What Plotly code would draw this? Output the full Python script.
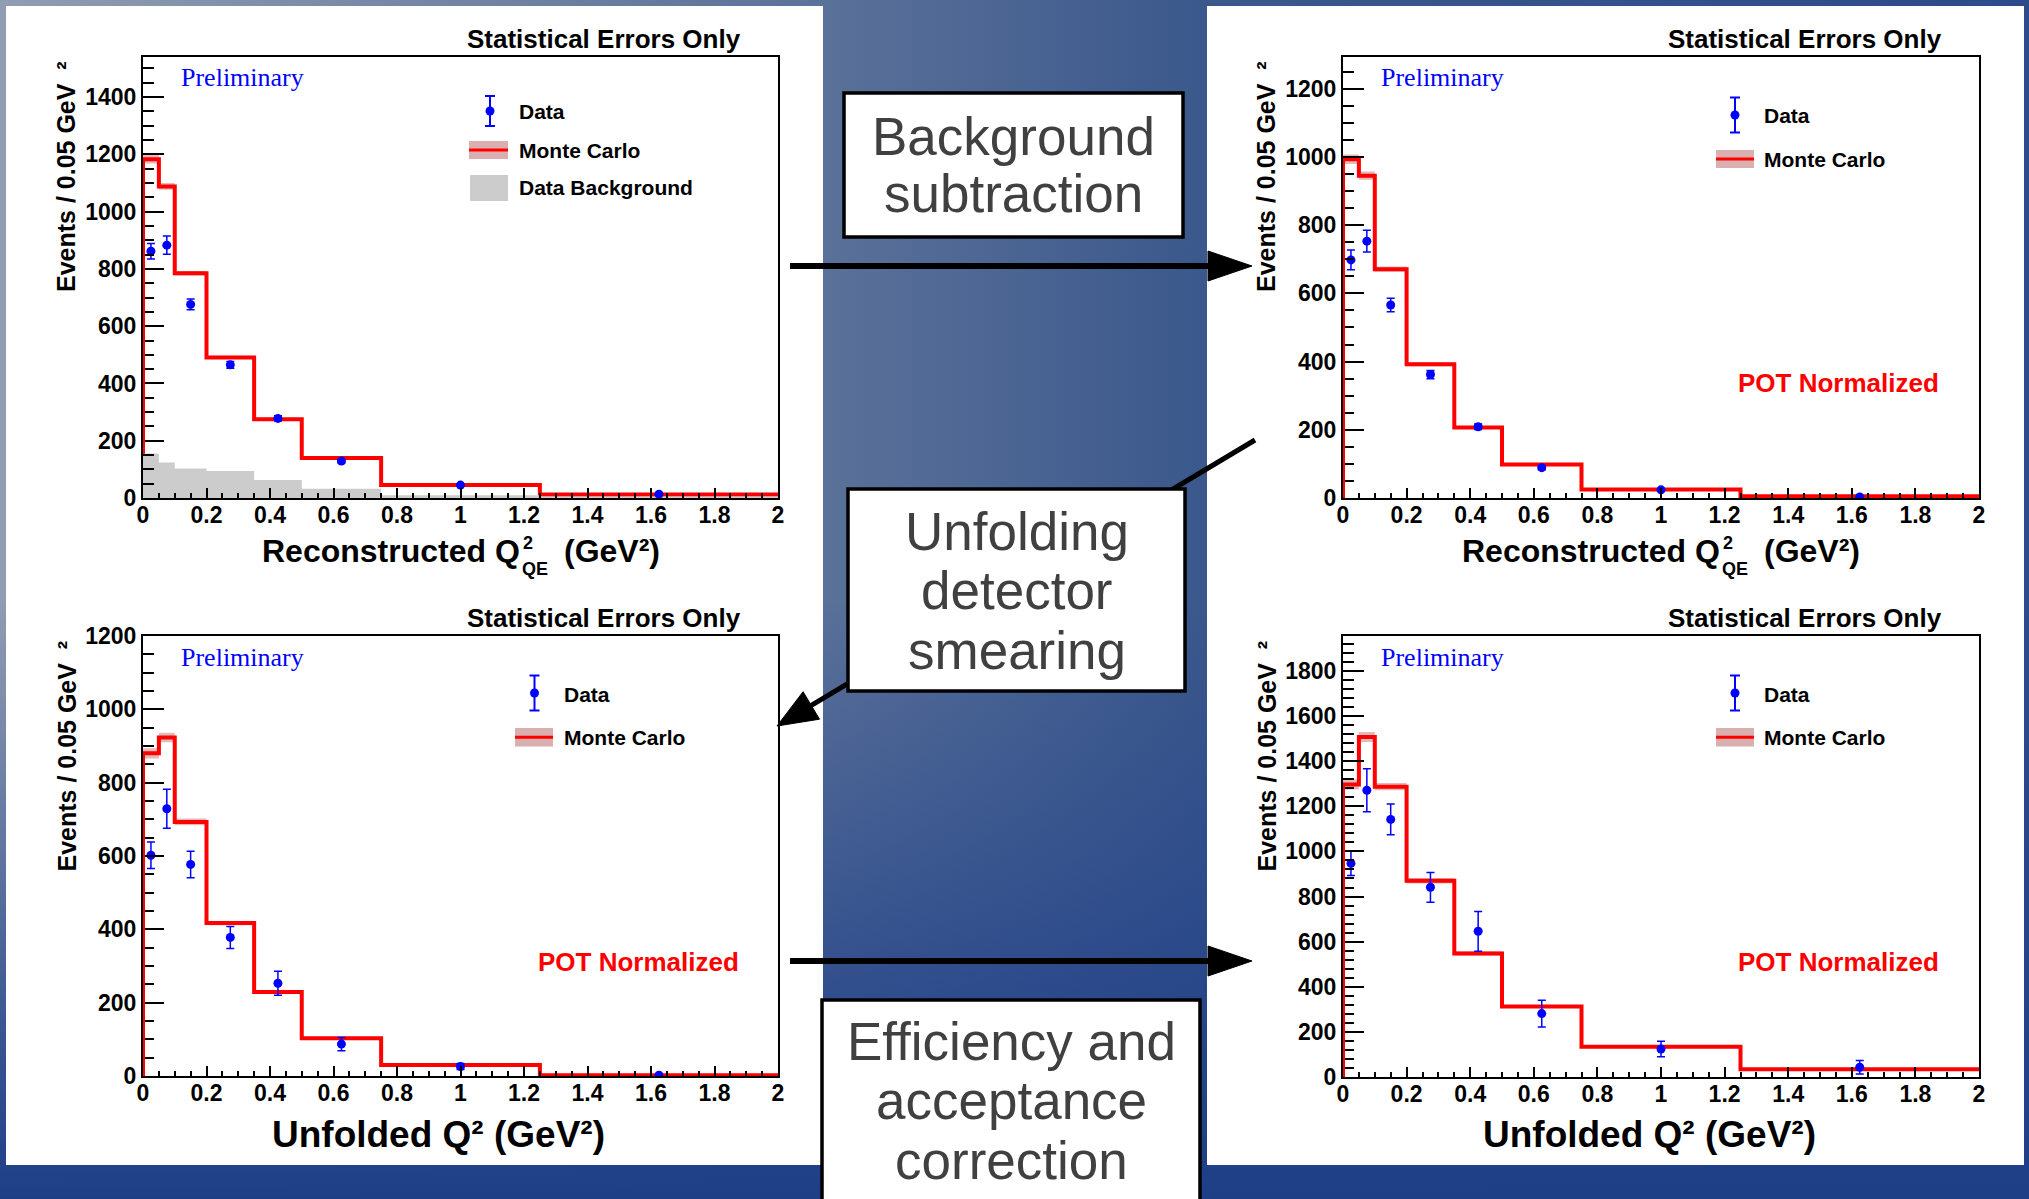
import math
import plotly.graph_objects as go

W, H = 2029, 1199
SANS = "Liberation Sans, Arial, sans-serif"
SERIF = "Liberation Serif, Times New Roman, serif"

# ---------------------------------------------------------------- data
# Q^2 binning (GeV^2)
bin_edges = [0.0, 0.05, 0.1, 0.2, 0.35, 0.5, 0.75, 1.25, 2.0]
bin_centers = [0.025, 0.075, 0.15, 0.275, 0.425, 0.625, 1.0, 1.625]
x_tick_vals = [0, 0.2, 0.4, 0.6, 0.8, 1.0, 1.2, 1.4, 1.6, 1.8, 2.0]
x_tick_text = ["0", "0.2", "0.4", "0.6", "0.8", "1", "1.2", "1.4", "1.6", "1.8", "2"]

# Reconstructed Q2_QE, before background subtraction
reco_mc = [1183, 1088, 785, 491, 275, 140, 45, 12]
reco_mc_err = [15, 12, 8, 6, 5, 3, 2, 1]
reco_data = [862, 883, 676, 465, 278, 129, 45, 13]
reco_data_err = [27, 32, 19, 12, 9, 7, 4, 2]
reco_bkg = [155, 124, 103, 94, 63, 32, 10, 4]

# Reconstructed Q2_QE, background subtracted (POT normalized)
sub_mc = [993, 945, 671, 392, 207, 98, 25, 5]
sub_mc_err = [14, 12, 8, 6, 4, 3, 2, 1]
sub_data = [698, 753, 566, 362, 209, 89, 24, 3]
sub_data_err = [29, 32, 20, 12, 8, 6, 4, 2]

# Unfolded Q2
unf_mc = [880, 923, 693, 417, 229, 103, 30, 2]
unf_mc_err = [14, 13, 9, 6, 5, 3, 2, 1]
unf_data = [602, 729, 577, 378, 253, 87, 26, 2]
unf_data_err = [36, 53, 36, 30, 33, 18, 8, 3]

# Unfolded Q2 after efficiency and acceptance correction
eff_mc = [1297, 1507, 1287, 870, 548, 313, 134, 34]
eff_mc_err = [22, 22, 16, 12, 9, 6, 4, 2]
eff_data = [947, 1271, 1142, 841, 646, 281, 124, 43]
eff_data_err = [54, 95, 68, 66, 88, 59, 34, 30]

step_labels = ["Background<br>subtraction",
               "Unfolding<br>detector<br>smearing",
               "Efficiency and<br>acceptance<br>correction"]

# ---------------------------------------------------------------- styling
RED = "#ff0000"
BLUE = "#0000ff"
BAND = "rgba(200,130,130,0.55)"
BAND_KEY = "#d9afaf"
GREY = "#cccccc"

panels = [
    dict(ax=2, frame=(143, 57, 778, 498), ymax=1540, minor=50,
         mc=reco_mc, mc_err=reco_mc_err, data=reco_data, data_err=reco_data_err, bkg=reco_bkg),
    dict(ax=3, frame=(1343, 57, 1979, 498), ymax=1293, minor=50,
         mc=sub_mc, mc_err=sub_mc_err, data=sub_data, data_err=sub_data_err, bkg=None),
    dict(ax=4, frame=(143, 636, 778, 1076), ymax=1200, minor=50,
         mc=unf_mc, mc_err=unf_mc_err, data=unf_data, data_err=unf_data_err, bkg=None),
    dict(ax=5, frame=(1343, 636, 1979, 1077), ymax=1955, minor=40,
         mc=eff_mc, mc_err=eff_mc_err, data=eff_data, data_err=eff_data_err, bkg=None),
]

fig = go.Figure()
shapes = []
annotations = []

# ---------------------------------------------------------------- slide background (pixel axes x/y)
rect_x = [0, W, W, 0, 0]
rect_y = [0, 0, H, H, 0]
fig.add_trace(go.Scatter(
    x=rect_x, y=rect_y, mode="lines", fill="toself", line=dict(width=0),
    fillgradient=dict(type="horizontal", start=0, stop=W,
                      colorscale=[[0, "#909db2"], [824 / W, "#5a7199"],
                                  [1206 / W, "#3b588c"], [1, "#2c4b8a"]]),
    hoverinfo="skip", xaxis="x", yaxis="y"))
fig.add_trace(go.Scatter(
    x=rect_x, y=rect_y, mode="lines", fill="toself", line=dict(width=0),
    fillgradient=dict(type="vertical", start=0, stop=H,
                      colorscale=[[0, "rgba(32,64,136,0)"], [0.5, "rgba(32,64,136,0)"],
                                  [0.72, "rgba(32,64,136,0.45)"], [0.85, "rgba(32,64,136,0.75)"],
                                  [1, "rgba(30,62,134,1)"]]),
    hoverinfo="skip", xaxis="x", yaxis="y"))
for (x0, x1) in [(6, 823), (1207, 2024)]:
    fig.add_trace(go.Scatter(
        x=[x0, x1, x1, x0, x0], y=[6, 6, 1165, 1165, 6], mode="lines",
        fill="toself", fillcolor="white", line=dict(width=0),
        hoverinfo="skip", xaxis="x", yaxis="y"))

# ---------------------------------------------------------------- histograms
layout_axes = {}
for p in panels:
    xa, ya = f"x{p['ax']}", f"y{p['ax']}"
    mc, mce = p["mc"], p["mc_err"]
    step_x = bin_edges
    lo = [v - e for v, e in zip(mc, mce)]
    hi = [v + e for v, e in zip(mc, mce)]
    fig.add_trace(go.Scatter(x=step_x, y=lo + [lo[-1]], mode="lines", line_shape="hv",
                             line=dict(width=0), hoverinfo="skip", xaxis=xa, yaxis=ya))
    fig.add_trace(go.Scatter(x=step_x, y=hi + [hi[-1]], mode="lines", line_shape="hv",
                             line=dict(width=0), fill="tonexty", fillcolor=BAND,
                             hoverinfo="skip", xaxis=xa, yaxis=ya))
    fig.add_trace(go.Scatter(x=[0.0] + step_x, y=[0] + mc + [mc[-1]], mode="lines",
                             line_shape="hv", line=dict(color=RED, width=4),
                             hoverinfo="skip", xaxis=xa, yaxis=ya))
    low_edge = 0
    if p["bkg"] is not None:
        b = p["bkg"]
        low_edge = b[0]
        fig.add_trace(go.Scatter(x=step_x, y=b + [b[-1]], mode="lines", line_shape="hv",
                                 line=dict(width=0), fill="tozeroy", fillcolor=GREY,
                                 hoverinfo="skip", xaxis=xa, yaxis=ya))
    # leading edge of the MC histogram, drawn over the frame line
    shapes.append(dict(type="line", xref=xa, yref=ya, x0=bin_edges[0], x1=bin_edges[0],
                       y0=low_edge, y1=mc[0], line=dict(color=RED, width=4), layer="above"))
    fig.add_trace(go.Scatter(x=bin_centers, y=p["data"], mode="markers",
                             marker=dict(color=BLUE, size=9),
                             error_y=dict(type="data", array=p["data_err"], color=BLUE,
                                          thickness=1.5, width=4),
                             hoverinfo="skip", xaxis=xa, yaxis=ya))

    fx0, fy0, fx1, fy1 = p["frame"]
    tickfont = dict(family=SANS, size=23, color="black", weight="bold")
    layout_axes[f"xaxis{p['ax']}"] = dict(
        domain=[fx0 / W, fx1 / W], anchor=ya, range=[0, 2],
        tickmode="array", tickvals=x_tick_vals, ticktext=x_tick_text,
        ticks="inside", ticklen=10, tickwidth=2, tickcolor="black",
        minor=dict(tickmode="linear", tick0=0, dtick=0.05, ticks="inside",
                   ticklen=5, tickwidth=2, tickcolor="black", showgrid=False),
        showline=True, linewidth=2, linecolor="black", mirror=True,
        showgrid=False, zeroline=False, tickfont=tickfont, fixedrange=True,
        automargin=False, ticklabelstandoff=-5)
    layout_axes[f"yaxis{p['ax']}"] = dict(
        domain=[1 - fy1 / H, 1 - fy0 / H], anchor=xa, range=[0, p["ymax"]],
        tickmode="linear", tick0=0, dtick=200,
        ticks="inside", ticklen=21, tickwidth=2, tickcolor="black",
        minor=dict(tickmode="linear", tick0=0, dtick=p["minor"], ticks="inside",
                   ticklen=11, tickwidth=2, tickcolor="black", showgrid=False),
        showline=True, linewidth=2, linecolor="black", mirror=True,
        showgrid=False, zeroline=False, tickfont=tickfont, fixedrange=True,
        automargin=False)

# ---------------------------------------------------------------- legends


def text(s, x, y, size, color="black", family=SANS, weight="bold",
         xanchor="center", yanchor="middle", angle=0):
    annotations.append(dict(
        text=s, x=x, y=y, xref="x", yref="y", showarrow=False,
        xanchor=xanchor, yanchor=yanchor, textangle=angle, borderpad=0,
        font=dict(family=family, size=size, color=color, weight=weight)))


def rect(x0, y0, x1, y1, fill, line_color=None, line_width=0):
    shapes.append(dict(type="rect", xref="x", yref="y", x0=x0, y0=y0, x1=x1, y1=y1,
                       fillcolor=fill, layer="above",
                       line=dict(color=line_color or fill, width=line_width)))


legend_keys = [
    dict(mark=(490, 111), err=15, mc_box=(469, 141, 508, 159), txt_x=518,
         data_y=111, mc_y=150.5, bkg_box=(470, 175, 508, 201), bkg_y=187),
    dict(mark=(1735, 115), err=17.5, mc_box=(1716, 150, 1754, 168), txt_x=1763,
         data_y=115.5, mc_y=159, bkg_box=None, bkg_y=None),
    dict(mark=(534.5, 693), err=17.5, mc_box=(515, 728, 553, 746.5), txt_x=563,
         data_y=694, mc_y=737, bkg_box=None, bkg_y=None),
    dict(mark=(1735, 693), err=17.5, mc_box=(1716, 728, 1754, 746.5), txt_x=1763,
         data_y=694, mc_y=737, bkg_box=None, bkg_y=None),
]
for k in legend_keys:
    fig.add_trace(go.Scatter(x=[k["mark"][0]], y=[k["mark"][1]], mode="markers",
                             marker=dict(color=BLUE, size=9),
                             error_y=dict(type="constant", value=k["err"], color=BLUE,
                                          thickness=2, width=5),
                             hoverinfo="skip", xaxis="x", yaxis="y"))
    bx0, by0, bx1, by1 = k["mc_box"]
    rect(bx0, by0, bx1, by1, BAND_KEY)
    my = (by0 + by1) / 2
    shapes.append(dict(type="line", xref="x", yref="y", x0=bx0, x1=bx1, y0=my, y1=my,
                       line=dict(color=RED, width=3), layer="above"))
    text("Data", k["txt_x"], k["data_y"], 21, xanchor="left")
    text("Monte Carlo", k["txt_x"], k["mc_y"], 21, xanchor="left")
    if k["bkg_box"] is not None:
        rect(*k["bkg_box"], GREY)
        text("Data Background", k["txt_x"], k["bkg_y"], 21, xanchor="left")

# ---------------------------------------------------------------- panel texts
for cx, cy in [(603.7, 39), (1804.5, 39), (603.7, 618.3), (1804.5, 618.3)]:
    text("Statistical Errors Only", cx, cy, 26)
for lx, ly in [(180, 77), (1380, 77), (180, 657), (1380, 657)]:
    text("Preliminary", lx, ly, 26, color=BLUE, family=SERIF, weight="normal", xanchor="left")
for cx, cy in [(1838.5, 383), (638, 962), (1838.5, 962)]:
    text("POT Normalized", cx, cy, 26, color=RED)
for cx, cy in [(66, 177), (1266, 177), (66, 756.5), (1266, 756.5)]:
    text("Events / 0.05 GeV\u00a0\u00a0\u00b2", cx, cy, 25, angle=-90)

# x-axis titles
for dx in (0, 1200):
    text("Reconstructed Q", 521 + dx, 551, 32, xanchor="right")
    text("2", 522 + dx, 543, 18, xanchor="left")
    text("QE", 521 + dx, 569, 18, xanchor="left")
    text("(GeV\u00b2)", 563 + dx, 551, 32, xanchor="left")
text("Unfolded Q\u00b2 (GeV\u00b2)", 438.5, 1134.5, 37)
text("Unfolded Q\u00b2 (GeV\u00b2)", 1649, 1134.5, 37)

# ---------------------------------------------------------------- workflow boxes and arrows


def arrow(x0, y0, x1, y1, width=6, head_len=44, head_half=15):
    dx, dy = x1 - x0, y1 - y0
    length = math.hypot(dx, dy)
    ux, uy = dx / length, dy / length
    bx, by = x1 - ux * head_len, y1 - uy * head_len
    nx, ny = -uy, ux
    shapes.append(dict(type="line", xref="x", yref="y", x0=x0, y0=y0, x1=bx, y1=by,
                       line=dict(color="black", width=width), layer="above"))
    path = (f"M {x1:.1f},{y1:.1f} L {bx + nx * head_half:.1f},{by + ny * head_half:.1f} "
            f"L {bx - nx * head_half:.1f},{by - ny * head_half:.1f} Z")
    shapes.append(dict(type="path", xref="x", yref="y", path=path, fillcolor="black",
                       line=dict(color="black", width=1), layer="above"))


arrow(790, 266, 1252, 266)
arrow(1255, 440, 777, 726, width=5, head_len=40, head_half=16)
arrow(790, 961, 1252, 961)

boxes = [(844, 93, 1183, 237), (848, 489, 1185, 691), (822, 1000, 1200, 1230)]
line_centers = [[136.5, 193.5], [531, 590, 650], [1041, 1100, 1160]]
for (x0, y0, x1, y1), label, ys in zip(boxes, step_labels, line_centers):
    rect(x0, y0, x1, y1, "white", line_color="black", line_width=3.5)
    cx = (x0 + x1) / 2
    for line, yc in zip(label.split("<br>"), ys):
        text(line, cx, yc, 53, color="#404040", weight="normal")

fig.update_layout(
    width=W, height=H,
    margin=dict(l=0, r=0, t=0, b=0, pad=0, autoexpand=False),
    paper_bgcolor="#1f3f86", plot_bgcolor="rgba(0,0,0,0)",
    showlegend=False, hovermode=False,
    xaxis=dict(domain=[0, 1], range=[0, W], visible=False, fixedrange=True),
    yaxis=dict(domain=[0, 1], range=[H, 0], visible=False, fixedrange=True),
    shapes=shapes, annotations=annotations,
    **layout_axes,
)

fig.write_html("out.html", config=dict(displayModeBar=False))
